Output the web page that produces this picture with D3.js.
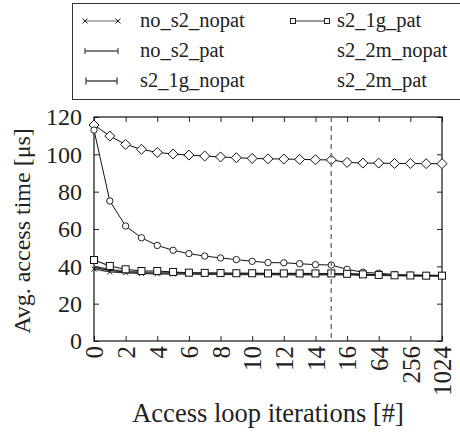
<!DOCTYPE html>
<html><head><meta charset="utf-8">
<script src="https://cdn.jsdelivr.net/npm/d3@7"></script>
<style>
html,body{margin:0;padding:0;background:#fff;}
svg{display:block;}
</style></head>
<body>
<svg id="c" width="460" height="435"></svg>
<script>
const xLabels = ["0","1","2","3","4","5","6","7","8","9","10","11","12","13","14","15","16","32","64","128","256","512","1024"];
const tickLabels = ["0","2","4","6","8","10","12","14","16","64","256","1024"];
const yTicks = [0,20,40,60,80,100,120];
const seriesNames = ["no_s2_nopat","no_s2_pat","s2_1g_nopat","s2_1g_pat","s2_2m_nopat","s2_2m_pat"];
const no_s2_nopat = [38.5,37,36.5,36.2,36,35.9,35.8,35.7,35.7,35.6,35.6,35.6,35.5,35.5,35.5,35.5,35.4,35.3,35.2,35.1,35,35,35];
const no_s2_pat   = [39.5,37.8,37,36.6,36.4,36.3,36.2,36.1,36.1,36,36,36,36,36,36,35.9,35.8,35.5,35.3,35.2,35.1,35.1,35];
const s2_1g_nopat = [40,38.3,37.3,36.8,36.5,36.4,36.3,36.2,36.2,36.1,36.1,36.1,36.1,36.1,36,36,35.9,35.6,35.4,35.2,35.1,35,35];
const s2_1g_pat   = [43.4,40.2,38.4,37.5,37.5,37,36.6,36.5,36.4,36.3,36.3,36.2,36.2,36.2,36.2,36.2,36,35.7,35.4,35.2,35.1,35,35];
const s2_2m_nopat = [113,75,61.6,55.3,51.2,48.6,46.8,45.5,44.5,43.6,42.7,42,41.9,41.4,40.9,40.7,38.4,36.8,36.3,35.6,35.3,35.1,35];
const s2_2m_pat   = [115.7,109.8,105.3,102.7,101,100.2,99.6,99.1,98.6,98.2,97.8,97.6,97.5,97.3,97.1,97.0,95.7,95.3,95.3,95.1,95.1,95.0,95.0];
const markerLine = 15;

const FONT = "Liberation Serif";
const svg = d3.select("#c");
const L = 94, R = 442, T = 117, B = 341;
const x = d3.scalePoint().domain(xLabels).range([L, R]);
const y = d3.scaleLinear().domain([0, 120]).range([B, T]);

// legend box
const lg = svg.append("g");
lg.append("rect").attr("x",72.5).attr("y",3.5).attr("width",420).attr("height",96)
  .attr("fill","none").attr("stroke","#333").attr("stroke-width",1);
const legendFS = 20.5;
const rows = [21,51,81];
function seg(g,x1,x2,yy,col,w){g.append("line").attr("x1",x1).attr("x2",x2).attr("y1",yy).attr("y2",yy).attr("stroke",col).attr("stroke-width",w);}
seg(lg,85,118,rows[0],"#666",1.2);
[85,118].forEach(px=>{lg.append("path").attr("d",`M${px-2.5},${rows[0]-2.5}L${px+2.5},${rows[0]+2.5}M${px-2.5},${rows[0]+2.5}L${px+2.5},${rows[0]-2.5}`).attr("stroke","#222").attr("stroke-width",1);});
seg(lg,85,118,rows[1],"#000",1.2);
[85,118].forEach(px=>{lg.append("line").attr("x1",px).attr("x2",px).attr("y1",rows[1]-3).attr("y2",rows[1]+3).attr("stroke","#444").attr("stroke-width",1.2);});
seg(lg,86,117,rows[2],"#777",2);
[86,117].forEach(px=>{lg.append("line").attr("x1",px).attr("x2",px).attr("y1",rows[2]-3.5).attr("y2",rows[2]+3.5).attr("stroke","#555").attr("stroke-width",1.5);});
seg(lg,293,327,rows[0],"#333",1);
[293,327].forEach(px=>{lg.append("rect").attr("x",px-2.5).attr("y",rows[0]-2.5).attr("width",5).attr("height",5).attr("fill","#fff").attr("stroke","#222").attr("stroke-width",1);});
const legendItems = [[seriesNames[0],140,rows[0]],[seriesNames[1],140,rows[1]],[seriesNames[2],140,rows[2]],
  [seriesNames[3],337,rows[0]],[seriesNames[4],337,rows[1]],[seriesNames[5],337,rows[2]]];
legendItems.forEach(d=>{
  lg.append("text").attr("x",d[1]).attr("y",d[2]+6).attr("font-family",FONT).attr("font-size",legendFS).attr("fill","#222").text(d[0]);
});

// axes
const gY = svg.append("g").attr("transform",`translate(${L},0)`)
  .call(d3.axisLeft(y).tickValues(yTicks).tickSize(-5).tickPadding(12).tickFormat(d3.format("d")));
const gY2 = svg.append("g").attr("transform",`translate(${R},0)`)
  .call(d3.axisRight(y).tickValues(yTicks).tickSize(-5).tickFormat(""));
const gX = svg.append("g").attr("transform",`translate(0,${B})`)
  .call(d3.axisBottom(x).tickValues(tickLabels).tickSize(-5).tickPadding(6));
const gX2 = svg.append("g").attr("transform",`translate(0,${T})`)
  .call(d3.axisTop(x).tickValues(tickLabels).tickSize(-5).tickFormat(""));
[gY,gY2,gX,gX2].forEach(g=>{g.attr("font-family",FONT);g.select(".domain").remove();g.selectAll("line").attr("stroke","#222");});
gY.selectAll("text").attr("font-size",24).attr("font-family",FONT).attr("fill","#222");
gX.selectAll("text").attr("font-size",25).attr("font-family",FONT).attr("fill","#222")
  .attr("text-anchor","end").attr("dy","0.35em").attr("y",0)
  .attr("transform","translate(0,5) rotate(-90)");
svg.append("rect").attr("x",L).attr("y",T).attr("width",R-L).attr("height",B-T)
  .attr("fill","none").attr("stroke","#111").attr("stroke-width",1.2);

// series
const line = d3.line().x((d,i)=>x(xLabels[i])).y(d=>y(d));
const plot = svg.append("g");
function drawLine(data,col,w){plot.append("path").datum(data).attr("d",line).attr("fill","none").attr("stroke",col).attr("stroke-width",w);}
drawLine(s2_2m_pat,"#111",1);
drawLine(s2_2m_nopat,"#111",1);
drawLine(no_s2_nopat,"#333",1.3);
drawLine(no_s2_pat,"#000",1.3);
drawLine(s2_1g_nopat,"#555",1.6);
drawLine(s2_1g_pat,"#111",1.1);
plot.selectAll(".xm").data(no_s2_nopat).join("path").attr("d",(d,i)=>{const px=x(xLabels[i]),py=y(d);return `M${px-2.5},${py-2.5}L${px+2.5},${py+2.5}M${px-2.5},${py+2.5}L${px+2.5},${py-2.5}`;})
  .attr("stroke","#222").attr("stroke-width",1);
plot.selectAll(".dm").data(s2_2m_pat).join("path").attr("d",(d,i)=>{const px=x(xLabels[i]),py=y(d);return `M${px-5},${py}L${px},${py-5}L${px+5},${py}L${px},${py+5}Z`;})
  .attr("fill","#fff").attr("stroke","#111").attr("stroke-width",1);
plot.selectAll(".cm").data(s2_2m_nopat).join("circle").attr("cx",(d,i)=>x(xLabels[i])).attr("cy",d=>y(d)).attr("r",3.2)
  .attr("fill","#fff").attr("stroke","#222").attr("stroke-width",1);
plot.selectAll(".sm").data(s2_1g_pat).join("rect").attr("x",(d,i)=>x(xLabels[i])-3.5).attr("y",d=>y(d)-3.5).attr("width",7).attr("height",7)
  .attr("fill","#fff").attr("stroke","#111").attr("stroke-width",1);

svg.append("line").attr("x1",x(String(markerLine))).attr("x2",x(String(markerLine))).attr("y1",T).attr("y2",B)
  .attr("stroke","#777").attr("stroke-width",1.5).attr("stroke-dasharray","5,4");

svg.append("text").attr("x",268).attr("y",422).attr("text-anchor","middle").attr("font-family",FONT).attr("font-size",26.5).attr("fill","#222")
  .text("Access loop iterations [#]");
svg.append("text").attr("transform",`translate(30,${(T+B)/2+2}) rotate(-90)`).attr("text-anchor","middle").attr("font-family",FONT).attr("font-size",24).attr("fill","#222")
  .text("Avg. access time [μs]");
</script>
</body></html>
